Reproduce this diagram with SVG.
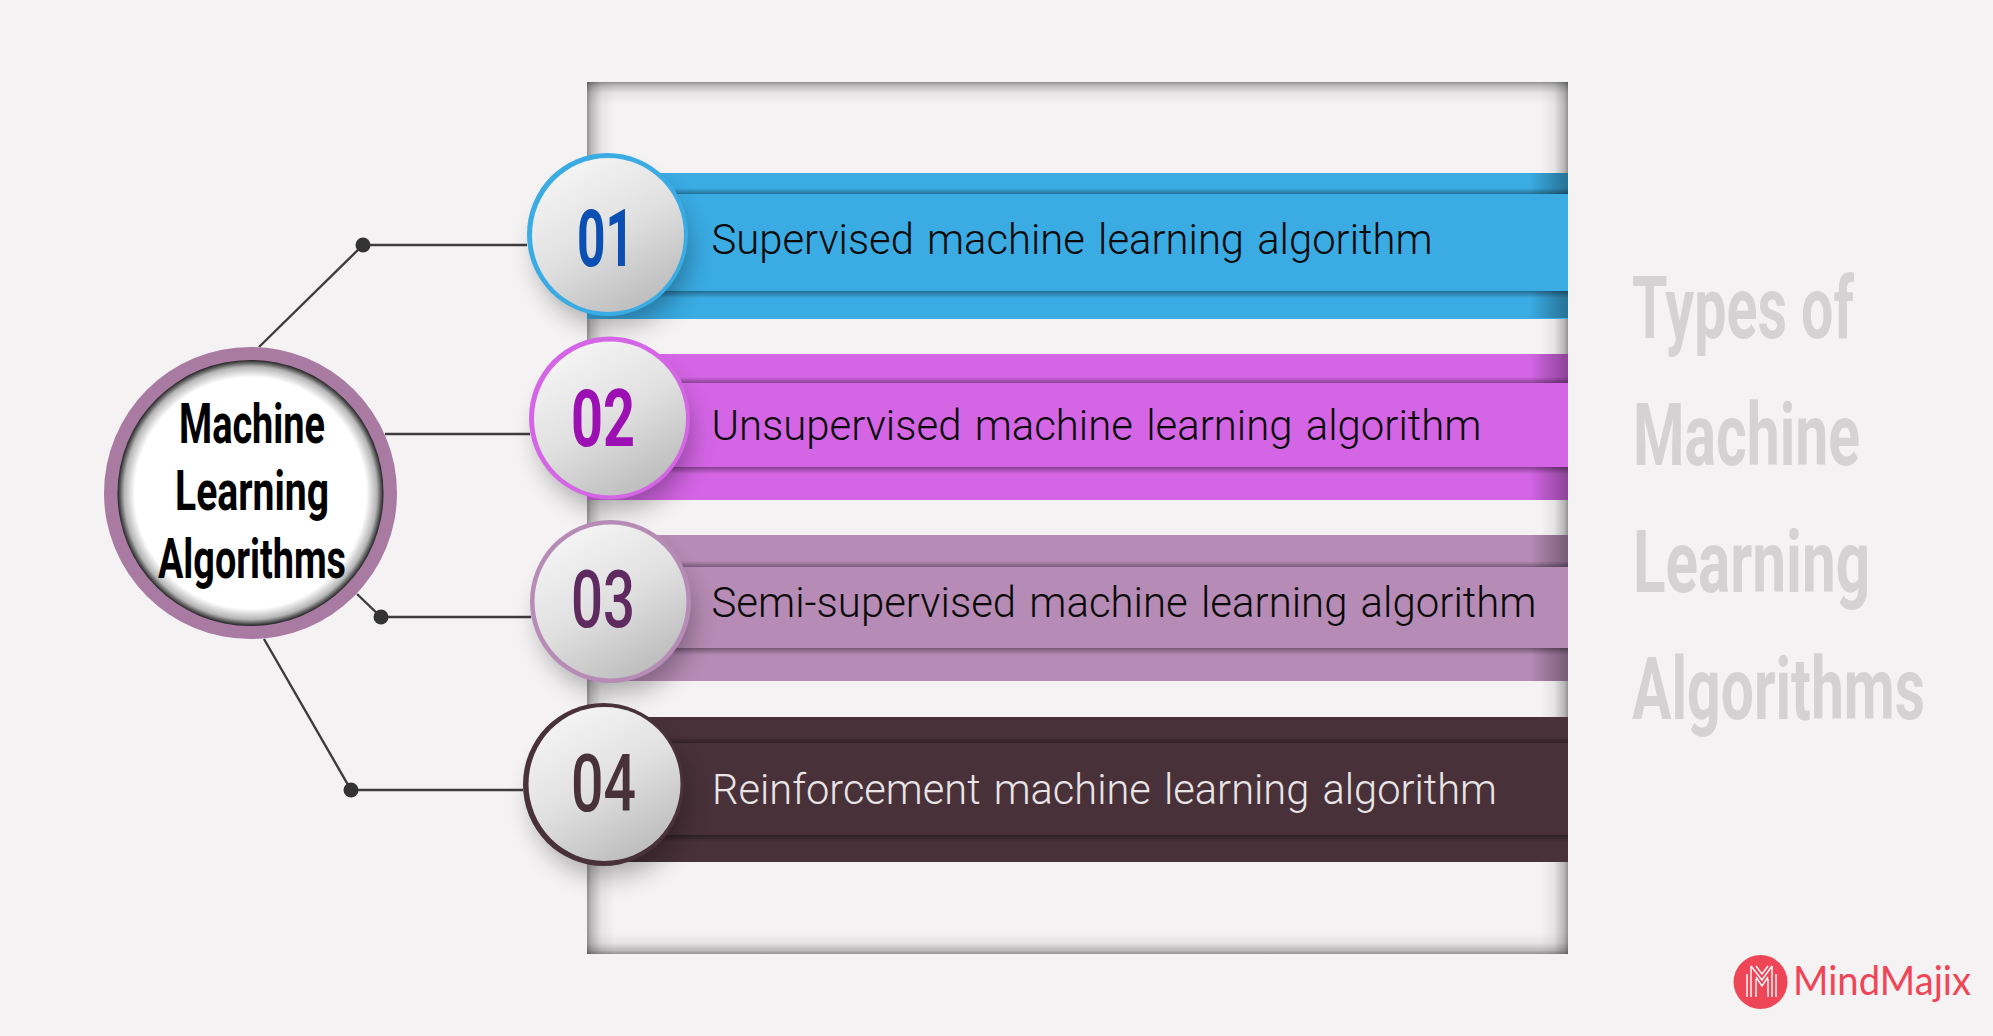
<svg xmlns="http://www.w3.org/2000/svg" width="1993" height="1036" viewBox="0 0 1993 1036">
<defs>
<linearGradient id="disc" x1="0.25" y1="0.05" x2="0.75" y2="0.95"><stop offset="0" stop-color="#f4f4f4"/><stop offset="0.5" stop-color="#e0e0e0"/><stop offset="1" stop-color="#bdbdbd"/></linearGradient>
<radialGradient id="hub" cx="0.5" cy="0.5" r="0.5"><stop offset="0" stop-color="#fff"/><stop offset="0.87" stop-color="#fff"/><stop offset="0.95" stop-color="#b5b5b5"/><stop offset="1" stop-color="#222"/></radialGradient>
<linearGradient id="edgeT" x1="0" y1="0" x2="0" y2="1"><stop offset="0" stop-color="#000" stop-opacity=".4"/><stop offset=".15" stop-color="#000" stop-opacity=".24"/><stop offset=".5" stop-color="#000" stop-opacity=".06"/><stop offset="1" stop-color="#000" stop-opacity="0"/></linearGradient>
<linearGradient id="edgeL" x1="0" y1="0" x2="1" y2="0"><stop offset="0" stop-color="#000" stop-opacity=".4"/><stop offset=".15" stop-color="#000" stop-opacity=".24"/><stop offset=".5" stop-color="#000" stop-opacity=".06"/><stop offset="1" stop-color="#000" stop-opacity="0"/></linearGradient>
<linearGradient id="edgeR" x1="1" y1="0" x2="0" y2="0"><stop offset="0" stop-color="#000" stop-opacity=".4"/><stop offset=".15" stop-color="#000" stop-opacity=".24"/><stop offset=".5" stop-color="#000" stop-opacity=".06"/><stop offset="1" stop-color="#000" stop-opacity="0"/></linearGradient>
<linearGradient id="edgeB" x1="0" y1="1" x2="0" y2="0"><stop offset="0" stop-color="#000" stop-opacity=".4"/><stop offset=".15" stop-color="#000" stop-opacity=".24"/><stop offset=".5" stop-color="#000" stop-opacity=".06"/><stop offset="1" stop-color="#000" stop-opacity="0"/></linearGradient>
<linearGradient id="bandEnd" x1="0" y1="0" x2="1" y2="0"><stop offset="0" stop-color="#000" stop-opacity="0"/><stop offset="1" stop-color="#000" stop-opacity=".34"/></linearGradient>
<linearGradient id="creaseU" x1="0" y1="0" x2="0" y2="1"><stop offset="0" stop-color="#000" stop-opacity="0"/><stop offset="1" stop-color="#000" stop-opacity=".34"/></linearGradient>
<linearGradient id="creaseD" x1="0" y1="0" x2="0" y2="1"><stop offset="0" stop-color="#000" stop-opacity=".36"/><stop offset="1" stop-color="#000" stop-opacity="0"/></linearGradient>
<filter id="soft" x="-50%" y="-50%" width="200%" height="200%"><feGaussianBlur stdDeviation="13"/></filter>
</defs>
<style>
.conn{stroke:#3f3b3c;stroke-width:2.4;fill:none}
.dot{fill:#333}
.ring-shadow{fill:#000;opacity:.3}
.disc{fill:url(#disc)}
.up{fill:url(#creaseU)}
.dn{fill:url(#creaseD)}
.end{fill:url(#bandEnd)}
.num{font-family:"Roboto","Liberation Sans",sans-serif;font-weight:700;font-size:79px}
.med{font-weight:500}
.lab{font-family:"Roboto","Liberation Sans",sans-serif;font-weight:300;font-size:42px;word-spacing:3px}
.hub{font-family:"Roboto","Liberation Sans",sans-serif;font-weight:700;font-size:55px;fill:#000}
.ttl{font-family:"Roboto","Liberation Sans",sans-serif;font-weight:700;font-size:88px;fill:#d4d2d3}
</style>
<rect width="1993" height="1036" fill="#f4f2f3"/>
<g id="frame">
<rect x="587" y="82" width="981" height="872" fill="#f4f2f3"/>
<rect x="587" y="82" width="981" height="22" fill="url(#edgeT)"/>
<rect x="587" y="82" width="28" height="872" fill="url(#edgeL)"/>
<rect x="1540" y="82" width="28" height="872" fill="url(#edgeR)"/>
<rect x="587" y="932" width="981" height="22" fill="url(#edgeB)"/>
</g>
<g id="connectors">
<polyline class="conn" points="259,347 363,245 527,245"/>
<line class="conn" x1="385" y1="434" x2="530" y2="434"/>
<polyline class="conn" points="357,594 381,617 531,617"/>
<polyline class="conn" points="264,639 351,790 523,790"/>
<circle class="dot" cx="363" cy="245" r="7.5"/>
<circle class="dot" cx="381" cy="617" r="7.5"/>
<circle class="dot" cx="351" cy="790" r="7.5"/>
</g>
<g id="node-01">
<rect x="587" y="173" width="981" height="146" fill="#3aabe3"/>
<rect class="up" x="587" y="188" width="981" height="6"/>
<rect class="dn" x="587" y="291" width="981" height="7"/>
<rect class="end" x="1530" y="173" width="38" height="21"/>
<rect class="end" x="1530" y="291" width="38" height="27"/>
<ellipse class="ring-shadow" cx="613" cy="252" rx="76" ry="74" filter="url(#soft)"/>
<ellipse cx="607.500" cy="234.500" rx="80.500" ry="81.500" fill="#3aabe3"/>
<ellipse class="disc" cx="608" cy="235" rx="76" ry="77"/>
<text class="num" x="577" y="266" fill="#0b4fb3" textLength="57" lengthAdjust="spacingAndGlyphs">01</text>
<text class="lab" x="711.500" y="254" fill="#0a0a0a" textLength="721" lengthAdjust="spacingAndGlyphs">Supervised machine learning algorithm</text>
</g>
<g id="node-02">
<rect x="587" y="354" width="981" height="146" fill="#d465e5"/>
<rect class="up" x="587" y="377" width="981" height="6"/>
<rect class="dn" x="587" y="467" width="981" height="7"/>
<rect class="end" x="1530" y="354" width="38" height="29"/>
<rect class="end" x="1530" y="467" width="38" height="33"/>
<ellipse class="ring-shadow" cx="615" cy="436" rx="76" ry="74" filter="url(#soft)"/>
<ellipse cx="609.500" cy="418" rx="80.500" ry="81.500" fill="#d465e5"/>
<ellipse class="disc" cx="610" cy="418.500" rx="76" ry="77"/>
<text class="num" x="571" y="446" fill="#9b0fb3" textLength="64" lengthAdjust="spacingAndGlyphs">02</text>
<text class="lab" x="711.500" y="440" fill="#0a0a0a" textLength="770" lengthAdjust="spacingAndGlyphs">Unsupervised machine learning algorithm</text>
</g>
<g id="node-03">
<rect x="587" y="535" width="981" height="146" fill="#b68bb5"/>
<rect class="up" x="587" y="561" width="981" height="6"/>
<rect class="dn" x="587" y="648" width="981" height="7"/>
<rect class="end" x="1530" y="535" width="38" height="32"/>
<rect class="end" x="1530" y="648" width="38" height="33"/>
<ellipse class="ring-shadow" cx="616" cy="619" rx="76" ry="74" filter="url(#soft)"/>
<ellipse cx="610.500" cy="601.500" rx="80.500" ry="81.500" fill="#b68bb5"/>
<ellipse class="disc" cx="610.500" cy="601.500" rx="76" ry="77"/>
<text class="num med" x="571" y="627" fill="#5f2a5f" textLength="64" lengthAdjust="spacingAndGlyphs">03</text>
<text class="lab" x="711.500" y="617" fill="#0a0a0a" textLength="825" lengthAdjust="spacingAndGlyphs">Semi-supervised machine learning algorithm</text>
</g>
<g id="node-04">
<rect x="587" y="717" width="981" height="145" fill="#483139"/>
<rect class="up" x="587" y="737" width="981" height="6"/>
<rect class="dn" x="587" y="835" width="981" height="7"/>
<ellipse class="ring-shadow" cx="609" cy="802" rx="76" ry="74" filter="url(#soft)"/>
<ellipse cx="603.500" cy="784.500" rx="80.500" ry="81.500" fill="#483139"/>
<ellipse class="disc" cx="604.500" cy="784" rx="76" ry="77"/>
<text class="num med" x="571" y="811" fill="#483139" textLength="65" lengthAdjust="spacingAndGlyphs">04</text>
<text class="lab" x="712" y="804" fill="#e9e4e6" textLength="785" lengthAdjust="spacingAndGlyphs">Reinforcement machine learning algorithm</text>
</g>
<g id="node-hub">
<ellipse cx="250.500" cy="493" rx="146.500" ry="146" fill="#a97ba3"/>
<ellipse cx="250.500" cy="493" rx="133" ry="133" fill="url(#hub)"/>
<text class="hub" x="179" y="443" textLength="146" lengthAdjust="spacingAndGlyphs">Machine</text>
<text class="hub" x="175" y="510" textLength="154" lengthAdjust="spacingAndGlyphs">Learning</text>
<text class="hub" x="158" y="578" textLength="188" lengthAdjust="spacingAndGlyphs">Algorithms</text>
</g>
<g id="title">
<text class="ttl" x="1632" y="338" textLength="222" lengthAdjust="spacingAndGlyphs">Types of</text>
<text class="ttl" x="1633" y="465" textLength="227" lengthAdjust="spacingAndGlyphs">Machine</text>
<text class="ttl" x="1633" y="592" textLength="237" lengthAdjust="spacingAndGlyphs">Learning</text>
<text class="ttl" x="1632" y="719" textLength="293" lengthAdjust="spacingAndGlyphs">Algorithms</text>
</g>
<g id="logo">
<circle cx="1760.500" cy="982" r="27" fill="#ee4657"/>
<path d="M1747 974V997M1751 966V997M1756 979V997M1768 979V997M1772 966V997M1776 974V997M1751 966L1762 980L1772 966M1756 977L1762 986L1768 977M1756 966L1762 974L1768 966" fill="none" stroke="#fff" stroke-width="1.400"/>
<text x="1793" y="995" font-family="Lato,'Open Sans',sans-serif" font-size="41" fill="#ee4657" textLength="178" lengthAdjust="spacingAndGlyphs">MindMajix</text>
</g>
</svg>
